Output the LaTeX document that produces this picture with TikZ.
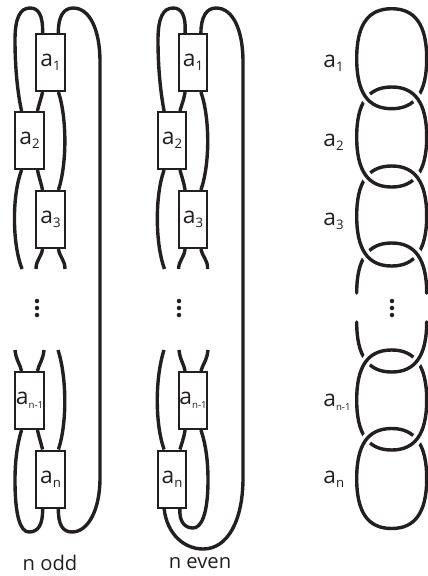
\documentclass[tikz,border=0pt]{standalone}
\usepackage{fontspec}
\setmainfont{Open Sans}
\definecolor{knotblack}{HTML}{231F20}
\tikzset{
  strand/.style={draw=knotblack, line width=0.068cm},
  box/.style={draw=knotblack, fill=white, line width=0.04cm, minimum width=0.58cm, minimum height=1.14cm, inner sep=0pt, font=\fontsize{13}{14}\selectfont, text=knotblack},
  label/.style={inner sep=0pt, anchor=west, font=\fontsize{13}{14}\selectfont, text=knotblack},
  caption/.style={inner sep=0pt, font=\fontsize{11.5}{14}\selectfont, text=knotblack},
  link/.style={draw=knotblack, line width=0.068cm, line cap=round},
  link over/.style={link, preaction={draw=white, line width=0.2cm, line cap=butt}},
  dot/.style={fill=knotblack, inner sep=0pt, minimum size=0.09cm, circle},
}
\newcommand{\sub}[1]{\raisebox{-0.35ex}{\fontsize{7.5}{8}\selectfont #1}}
\newcommand{\tinysub}[1]{\raisebox{-0.35ex}{\fontsize{5.5}{6}\selectfont #1}}
\begin{document}
\begin{tikzpicture}[x=0.02cm,y=-0.02cm]
\useasboundingbox (0,0) rectangle (427,576);
% the nodes, n odd
\node [box] (a1) at (50.5,62.5) {a\sub{1}};
\node [box] (a2) at (29.5,140.5) {a\sub{2}};
\node [box] (a3) at (50.5,219.5) {a\sub{3}};
\node [box] (am) at (29.5,400.5) {a\tinysub{n-1}};
\node [box] (an) at (50.5,479) {a\sub{n}};
\coordinate (a3l) at (22,269);
\coordinate (a3m) at (36,269);
\coordinate (a3r) at (65,269);
\coordinate (aml) at (15,350);
\coordinate (amm) at (44,350);
\coordinate (amr) at (58,350);
% the nodes, n even
\node [box] (b1) at (193,62.5) {a\sub{1}};
\node [box] (b2) at (172,140.5) {a\sub{2}};
\node [box] (b3) at (193,219.5) {a\sub{3}};
\node [box] (bm) at (193,400.5) {a\tinysub{n-1}};
\node [box] (bn) at (172,479) {a\sub{n}};
\coordinate (b3l) at (164.5,269);
\coordinate (b3m) at (178.5,269);
\coordinate (b3r) at (207.5,269);
\coordinate (bml) at (164,350);
\coordinate (bmm) at (179,350);
\coordinate (bmr) at (208,350);
%strands of n odd
\draw[strand] (a1.105) .. controls (43,14) and (38,8) .. (30,8) .. controls (20,8) and (15,18) .. (15,40) .. controls (15,70) and (18,95) .. (a2.105);
\draw[strand] (a1.75) .. controls (58,16) and (64,8) .. (73,8) .. controls (90,8) and (100,30) .. (100,62) -- (100,478) .. controls (100,510) and (88,532) .. (72,532) .. controls (63,532) and (58,525) .. (an.285);
\draw[strand] (a1.255) .. controls (41,99) and (39,104) .. (a2.75);
\draw[strand] (a1.285) .. controls (67,118) and (67,164) .. (a3.75);
\draw[strand] (a2.255) .. controls (12,195) and (12,243) .. (a3l);
\draw[strand] (a2.285) .. controls (39,177) and (41,183) .. (a3.105);
\draw[strand] (a3.255) .. controls (41,258) and (36,260) .. (a3m);
\draw[strand] (a3.285) .. controls (60,258) and (65,260) .. (a3r);
\draw[strand] (aml) .. controls (16,360) and (20,364) .. (am.105);
\draw[strand] (amm) .. controls (43,360) and (39,364) .. (am.75);
\draw[strand] (amr) .. controls (67,378) and (67,424) .. (an.75);
\draw[strand] (am.255) .. controls (17,445) and (15,462) .. (15,480) .. controls (15,515) and (20,532) .. (29,532) .. controls (38,532) and (43,525) .. (an.255);
\draw[strand] (am.285) .. controls (39,437) and (41,443) .. (an.105);
%strands of n even
\draw[strand] (b1.105) .. controls (186,14) and (181,8) .. (173,8) .. controls (163,8) and (158,18) .. (158,40) .. controls (158,70) and (161,95) .. (b2.105);
\draw[strand] (b1.75) .. controls (201,16) and (207,8) .. (216,8) .. controls (233,8) and (243,30) .. (243,62) -- (243,478) .. controls (243,520) and (228,549) .. (203,549) .. controls (185,549) and (167,535) .. (bn.255);
\draw[strand] (b1.255) .. controls (184,99) and (182,104) .. (b2.75);
\draw[strand] (b1.285) .. controls (210,118) and (210,164) .. (b3.75);
\draw[strand] (b2.255) .. controls (155,195) and (155,243) .. (b3l);
\draw[strand] (b2.285) .. controls (182,177) and (184,183) .. (b3.105);
\draw[strand] (b3.255) .. controls (184,258) and (179,260) .. (b3m);
\draw[strand] (b3.285) .. controls (203,258) and (208,260) .. (b3r);
\draw[strand] (bml) .. controls (155,378) and (155,424) .. (bn.105);
\draw[strand] (bmm) .. controls (180,360) and (184,364) .. (bm.105);
\draw[strand] (bmr) .. controls (207,360) and (203,364) .. (bm.75);
\draw[strand] (bm.255) .. controls (184,437) and (182,443) .. (bn.75);
\draw[strand] (bm.285) .. controls (206,445) and (208,462) .. (208,480) .. controls (208,515) and (201,528) .. (193,528) .. controls (185,528) and (179,522) .. (bn.285);
% the chain
\foreach \cy in {58.7,137,216,400,478.5} {
  \draw[link] (356.7,\cy) .. controls (356.7,\cy-34) and (368,\cy-50) .. (391.7,\cy-50) .. controls (415,\cy-50) and (426.7,\cy-34) .. (426.7,\cy) .. controls (426.7,\cy+34) and (415,\cy+50) .. (391.7,\cy+50) .. controls (368,\cy+50) and (356.7,\cy+34) .. (356.7,\cy) -- cycle;
}
\draw[link] (356.7,293) .. controls (356.7,259) and (368,243) .. (391.7,243) .. controls (415,243) and (426.7,259) .. (426.7,293);
\draw[link] (356.7,322) .. controls (356.7,356) and (368,372) .. (391.7,372) .. controls (415,372) and (426.7,356) .. (426.7,322);
% who goes over
\foreach \cy in {58.7,137,216} {
  \draw[link over] (356.7,\cy) .. controls (356.7,\cy+34) and (368,\cy+50) .. (391.7,\cy+50);
}
\foreach \cy in {137,216,293} {
  \draw[link over] (391.7,\cy-50) .. controls (415,\cy-50) and (426.7,\cy-34) .. (426.7,\cy);
}
\foreach \cy in {400,478.5} {
  \draw[link over] (356.7,\cy) .. controls (356.7,\cy-34) and (368,\cy-50) .. (391.7,\cy-50);
}
\foreach \cy in {322,400} {
  \draw[link over] (391.7,\cy+50) .. controls (415,\cy+50) and (426.7,\cy+34) .. (426.7,\cy);
}
% the labels
\node [label] (l1) at (323,63) {a\sub{1}};
\node [label] (l2) at (323,142) {a\sub{2}};
\node [label] (l3) at (323,221) {a\sub{3}};
\node [label] (lm) at (323,402) {a\tinysub{n-1}};
\node [label] (ln) at (323,479) {a\sub{n}};
\node [caption] (odd) at (50,563) {n odd};
\node [caption] (even) at (200,563) {n even};
% the dots
\foreach \x in {37,179,392} {
  \foreach \y in {301,308,315} {
    \node [dot] at (\x,\y) {};
  }
}
\end{tikzpicture}
\end{document}
